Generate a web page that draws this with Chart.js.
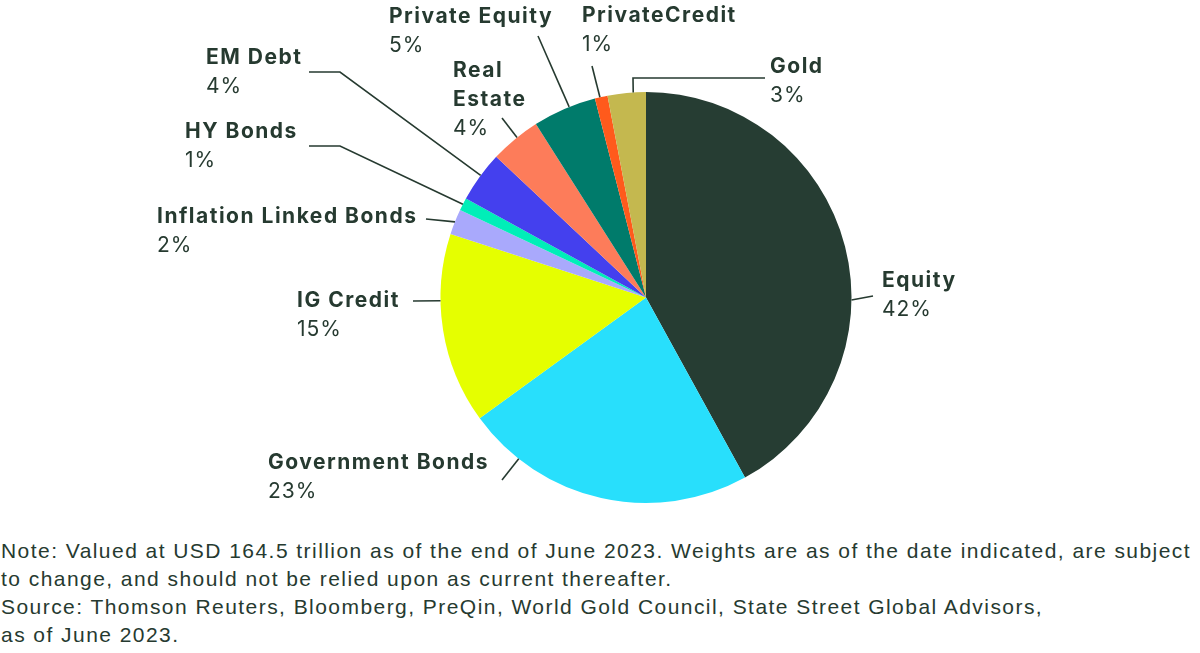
<!DOCTYPE html>
<html lang="en">
<head>
  <meta charset="UTF-8" />
  <title>Global Market Portfolio</title>
  <script src="https://cdn.jsdelivr.net/npm/chart.js"></script>
  <style>
    html, body { margin: 0; padding: 0; background: #fff; }
    .wrap { position: relative; width: 1200px; height: 653px; overflow: hidden; }
    .chart-box { position: absolute; left: 0; top: 0; width: 1200px; height: 530px; }
    .notes {
      position: absolute; left: 1px; top: 537px; width: 1200px;
      font-family: "Liberation Sans", "Roboto", sans-serif;
      font-size: 21px; line-height: 28px; color: #263a30; letter-spacing: 1.45px;
    }
    .notes p { margin: 0; white-space: nowrap; }
  </style>
</head>
<body>
  <div class="wrap">
    <div class="chart-box"><canvas id="pie"></canvas></div>
    <div class="notes">
      <p>Note: Valued at USD 164.5 trillion as of the end of June 2023. Weights are as of the date indicated, are subject<br>to change, and should not be relied upon as current thereafter.</p>
      <p>Source: Thomson Reuters, Bloomberg, PreQin, World Gold Council, State Street Global Advisors,<br>as of June 2023.</p>
    </div>
  </div>

  <script>
    // data
    const categories = ['Equity', 'Government Bonds', 'IG Credit', 'Inflation Linked Bonds', 'HY Bonds',
                        'EM Debt', 'Real Estate', 'Private Equity', 'PrivateCredit', 'Gold'];
    const weights = [42, 23, 15, 2, 1, 4, 4, 5, 1, 3];
    const sliceColors = ['#263d33', '#28dffc', '#e5ff00', '#a9a9fc', '#00eeb8',
                         '#4440ee', '#fd7c5a', '#007b6b', '#ff5a1c', '#c4b84f'];

    const ink = '#263a30';

    // where each leader line leaves the slice (fraction of slice) and where its label sits
    const callouts = [
      { t: 0.6,  path: [[873, 296]], x: 882, lines: ['Equity'], y: 281 },
      { t: 0.81, path: [[502, 480]], x: 268, lines: ['Government Bonds'], y: 463 },
      { t: 0.65, path: [[413, 301]], x: 297, lines: ['IG Credit'], y: 301 },
      { t: 0.5,  path: [[426, 219]], x: 157, lines: ['Inflation Linked Bonds'], y: 217 },
      { t: 0.5,  path: [[340, 146], [309, 146]], x: 185, lines: ['HY Bonds'], y: 132 },
      { t: 0.53, path: [[340, 72], [309, 72]], x: 206, lines: ['EM Debt'], y: 58 },
      { t: 0.55, path: [[502, 118]], x: 453, lines: ['Real', 'Estate'], y: 71 },
      { t: 0.58, path: [[538, 36]], x: 389, lines: ['Private Equity'], y: 17 },
      { t: 0.4,  path: [[592, 66]], x: 582, lines: ['PrivateCredit'], y: 16 },
      { t: 0.67, path: [[633, 78], [765, 78]], x: 770, lines: ['Gold'], y: 67 }
    ];

    const calloutPlugin = {
      id: 'callouts',
      afterDatasetsDraw(chart) {
        const ctx = chart.ctx;
        const arcs = chart.getDatasetMeta(0).data;
        ctx.save();
        ctx.strokeStyle = ink;
        ctx.lineWidth = 1.6;
        ctx.fillStyle = ink;
        ctx.textBaseline = 'middle';
        ctx.textAlign = 'left';
        callouts.forEach((c, i) => {
          const arc = arcs[i];
          const a = arc.startAngle + c.t * (arc.endAngle - arc.startAngle);
          const sx = arc.x + Math.cos(a) * arc.outerRadius;
          const sy = arc.y + Math.sin(a) * arc.outerRadius;
          ctx.beginPath();
          ctx.moveTo(sx, sy);
          c.path.forEach(p => ctx.lineTo(p[0], p[1]));
          ctx.stroke();

          let y = c.y;
          ctx.font = 'bold 21px "Inter", "Roboto", sans-serif';
          ctx.letterSpacing = '1.5px';
          c.lines.forEach(line => {
            ctx.fillText(line, c.x, y);
            y += 29;
          });
          ctx.font = '21px "Inter", "Roboto", sans-serif';
          ctx.letterSpacing = '1px';
          ctx.fillText(weights[i] + '%', c.x, y);
        });
        ctx.restore();
      }
    };

    new Chart(document.getElementById('pie'), {
      type: 'pie',
      data: {
        labels: categories,
        datasets: [{
          data: weights,
          backgroundColor: sliceColors,
          borderWidth: 0
        }]
      },
      options: {
        responsive: true,
        maintainAspectRatio: false,
        animation: false,
        layout: { padding: { left: 300, right: 208, top: 92, bottom: 27 } },
        plugins: {
          legend: { display: false },
          tooltip: { enabled: false }
        }
      },
      plugins: [calloutPlugin]
    });
  </script>
</body>
</html>
